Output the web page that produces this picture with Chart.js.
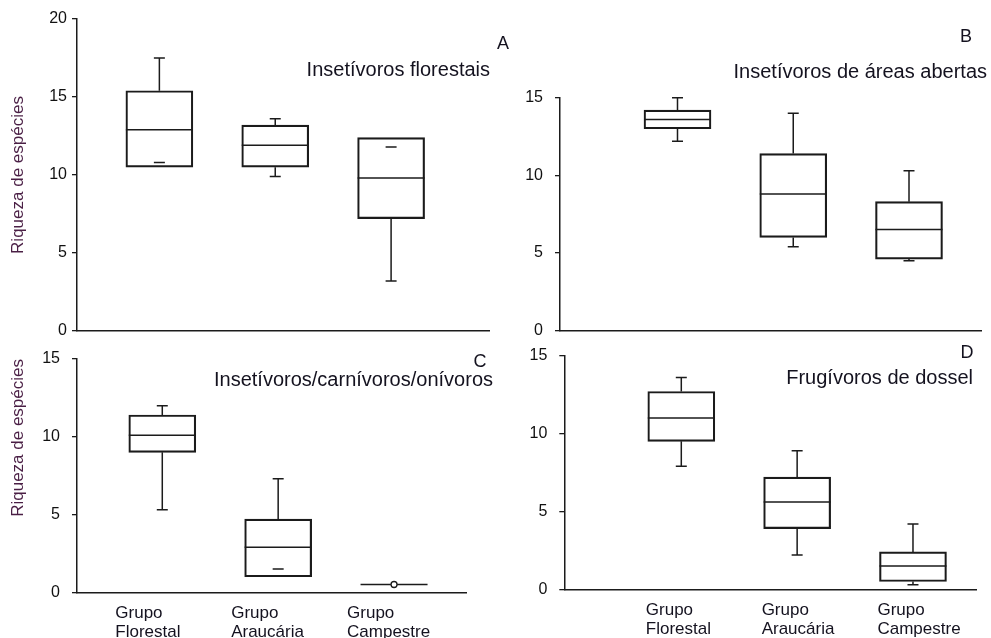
<!DOCTYPE html>
<html>
<head>
<meta charset="utf-8">
<script src="https://cdn.jsdelivr.net/npm/chart.js@4.4.0/dist/chart.umd.min.js"></script>
<style>
  html, body { margin: 0; padding: 0; background: #fff; }
  body { width: 991px; height: 638px; position: relative; overflow: hidden; }
  .panel { position: absolute; }
</style>
</head>
<body>
<div class="panel" style="left:0;top:0;width:520px;height:340px"><canvas id="cA"></canvas></div>
<div class="panel" style="left:495px;top:0;width:496px;height:340px"><canvas id="cB"></canvas></div>
<div class="panel" style="left:0;top:340px;width:495px;height:298px"><canvas id="cC"></canvas></div>
<div class="panel" style="left:495px;top:340px;width:496px;height:298px"><canvas id="cD"></canvas></div>
<script>
// grupos (eixo x)
const groupLabels = [['Grupo', 'Florestal'], ['Grupo', 'Araucária'], ['Grupo', 'Campestre']];
const groupPos = [1, 2, 3];
const yTitle = 'Riqueza de espécies';

// A - Insetívoros florestais
const minA = [10.8, 9.9, 3.2];
const q1A  = [10.5, 10.5, 7.2];
const medA = [12.9, 11.9, 9.8];
const q3A  = [15.4, 13.2, 12.4];
const maxA = [17.5, 13.6, 11.8];

// B - Insetívoros de áreas abertas
const minB = [12.2, 5.4, 4.5];
const q1B  = [13.0, 6.0, 4.6];
const medB = [13.6, 8.8, 6.5];
const q3B  = [14.2, 11.4, 8.3];
const maxB = [15.0, 14.0, 10.3];

// C - Insetívoros/carnívoros/onívoros
const minC = [5.3, 1.5, 0.5];
const q1C  = [9.0, 1.0, 0.5];
const medC = [10.1, 2.9, 0.5];
const q3C  = [11.4, 4.7, 0.5];
const maxC = [12.0, 7.3, 0.5];
const pointsC = [{ x: 3, y: 0.5 }];

// D - Frugívoros de dossel
const minD = [7.9, 2.2, 0.3];
const q1D  = [9.5, 3.9, 0.5];
const medD = [11.0, 5.6, 1.5];
const q3D  = [12.7, 7.2, 2.4];
const maxD = [13.6, 8.9, 4.2];

const FONT = '"Liberation Sans", Arial, sans-serif';
const LINE = '#1b1b1b';
const TEXT = '#14121f';

// desenha mediana e bigodes a partir das escalas
const boxPlugin = {
  id: 'boxWhiskers',
  afterDatasetDraw(chart, args) {
    if (args.index !== 0) return;
    const ds = chart.data.datasets[0];
    const y = chart.scales.y;
    const ctx = chart.ctx;
    ctx.save();
    ctx.strokeStyle = LINE;
    ctx.lineWidth = 1.5;
    args.meta.data.forEach((bar, i) => {
      const { x, width } = bar.getProps(['x', 'width'], true);
      const half = width / 2;
      const cap = 5.5;
      const pq1 = y.getPixelForValue(ds.q1[i]);
      const pq3 = y.getPixelForValue(ds.q3[i]);
      const pmed = y.getPixelForValue(ds.med[i]);
      const pmin = y.getPixelForValue(ds.min[i]);
      const pmax = y.getPixelForValue(ds.max[i]);
      ctx.beginPath();
      ctx.moveTo(x - half, pmed); ctx.lineTo(x + half, pmed);
      if (ds.max[i] > ds.q3[i]) { ctx.moveTo(x, pq3); ctx.lineTo(x, pmax); }
      if (ds.min[i] < ds.q1[i]) { ctx.moveTo(x, pq1); ctx.lineTo(x, pmin); }
      ctx.moveTo(x - cap, pmax); ctx.lineTo(x + cap, pmax);
      ctx.moveTo(x - cap, pmin); ctx.lineTo(x + cap, pmin);
      ctx.stroke();
    });
    ctx.restore();
  }
};

// letra e titulo de cada painel
const panelText = {
  id: 'panelText',
  afterDraw(chart, args, o) {
    const ctx = chart.ctx;
    ctx.save();
    ctx.fillStyle = TEXT;
    ctx.textBaseline = 'middle';
    ctx.font = '18px ' + FONT;
    ctx.textAlign = 'center';
    ctx.fillText(o.letter, o.letterX, o.letterY);
    ctx.font = '20px ' + FONT;
    ctx.textAlign = 'right';
    ctx.fillText(o.title, o.titleRight, o.titleY);
    ctx.restore();
  }
};

function makePanel(id, d, p) {
  const datasets = [{
    type: 'bar',
    data: groupPos.map((g, i) => ({ x: g, y: [d.q1[i], d.q3[i]] })),
    q1: d.q1, q3: d.q3, med: d.med, min: d.min, max: d.max,
    backgroundColor: 'rgba(255,255,255,0)',
    borderColor: LINE,
    borderWidth: 1.5,
    borderSkipped: false,
    barThickness: 67,
    order: 1
  }];
  if (d.points) {
    datasets.push({
      type: 'scatter',
      data: d.points,
      pointRadius: 3,
      backgroundColor: '#fff',
      borderColor: LINE,
      borderWidth: 1.3,
      order: 0
    });
  }
  new Chart(document.getElementById(id), {
    type: 'bar',
    data: { datasets },
    options: {
      responsive: true,
      maintainAspectRatio: false,
      animation: false,
      events: [],
      layout: { padding: { left: 0, right: p.padRight, top: p.padTop, bottom: 0 } },
      plugins: {
        legend: { display: false },
        tooltip: { enabled: false },
        panelText: p.text
      },
      scales: {
        x: {
          type: 'linear',
          offset: false,
          min: p.xMin, max: p.xMax,
          grid: { display: false, offset: false },
          border: { display: true, color: LINE, width: 1.5 },
          afterBuildTicks: (s) => { s.ticks = groupPos.map(v => ({ value: v })); },
          ticks: {
            display: p.showX,
            align: 'start',
            labelOffset: p.labelOffset,
            padding: 3,
            maxRotation: 0,
            autoSkip: false,
            color: TEXT,
            font: { size: 17, family: FONT, lineHeight: 1.12 },
            callback: (v) => groupLabels[groupPos.indexOf(v)]
          },
          afterFit: (s) => { s.height = p.xHeight; s.paddingLeft = 0; s.paddingRight = 0; }
        },
        y: {
          min: 0, max: p.yMax,
          grid: { display: true, drawOnChartArea: false, drawTicks: true, tickLength: 5, color: LINE, lineWidth: 1.3 },
          border: { display: true, color: LINE, width: 1.5 },
          ticks: { stepSize: 5, padding: p.tickPad, color: '#111', font: { size: 16, family: FONT } },
          title: {
            display: p.showTitle,
            text: yTitle,
            align: p.titleAlign,
            color: '#4a1f45',
            font: { size: 17, family: FONT },
            padding: { top: 8, bottom: 0 }
          },
          afterFit: (s) => { s.width = p.yWidth; s.paddingTop = 0; s.paddingBottom = 0; }
        }
      }
    },
    plugins: [boxPlugin, panelText]
  });
}

makePanel('cA', { min: minA, q1: q1A, med: medA, q3: q3A, max: maxA }, {
  yMax: 20, xMin: 0.289, xMax: 3.845, yWidth: 77, padRight: 31, padTop: 19, xHeight: 9,
  showX: false, labelOffset: 0, tickPad: 5, showTitle: true, titleAlign: 'center',
  text: { letter: 'A', letterX: 503, letterY: 44, title: 'Insetívoros florestais', titleRight: 490, titleY: 70 }
});
makePanel('cB', { min: minB, q1: q1B, med: medB, q3: q3B, max: maxB }, {
  yMax: 15, xMin: -0.015, xMax: 3.628, yWidth: 65, padRight: 9.3, padTop: 97.7, xHeight: 9.5,
  showX: false, labelOffset: 0, tickPad: 12, showTitle: false, titleAlign: 'center',
  text: { letter: 'B', letterX: 471, letterY: 37, title: 'Insetívoros de áreas abertas', titleRight: 492, titleY: 72 }
});
makePanel('cC', { min: minC, q1: q1C, med: medC, q3: q3C, max: maxC, points: pointsC }, {
  yMax: 15, xMin: 0.264, xMax: 3.627, yWidth: 77, padRight: 28.3, padTop: 19, xHeight: 45.7,
  showX: true, labelOffset: -47, tickPad: 12, showTitle: true, titleAlign: 'end',
  text: { letter: 'C', letterX: 480, letterY: 22, title: 'Insetívoros/carnívoros/onívoros', titleRight: 493, titleY: 40 }
});
makePanel('cD', { min: minD, q1: q1D, med: medD, q3: q3D, max: maxD }, {
  yMax: 15, xMin: -0.01, xMax: 3.544, yWidth: 69.3, padRight: 15, padTop: 15.7, xHeight: 48.7,
  showX: true, labelOffset: -35.5, tickPad: 12, showTitle: false, titleAlign: 'center',
  text: { letter: 'D', letterX: 472, letterY: 13, title: 'Frugívoros de dossel', titleRight: 478, titleY: 38 }
});
</script>
</body>
</html>
